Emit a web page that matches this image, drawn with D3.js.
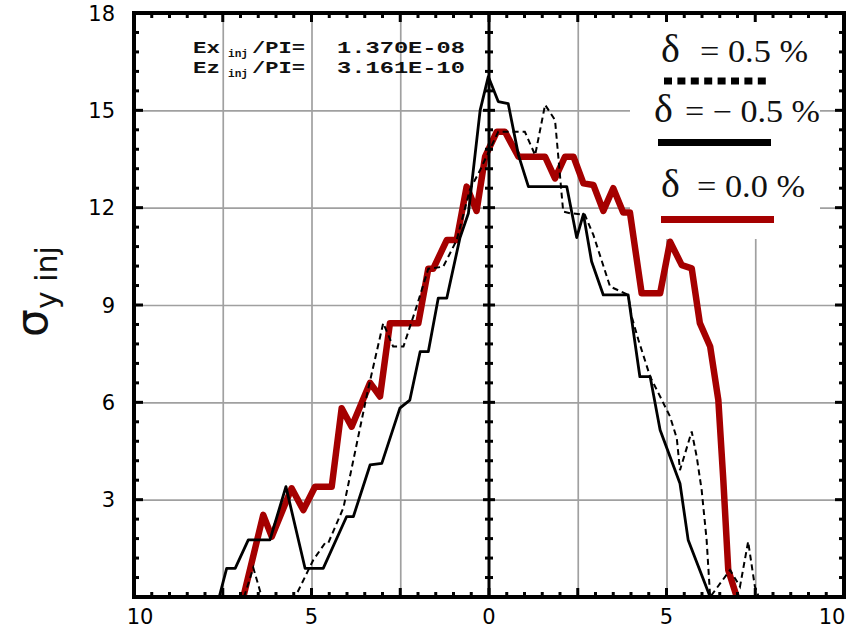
<!DOCTYPE html>
<meta charset="utf-8">
<style>
body { margin: 0; background: #fff; }
.tick-label { font-family: "DejaVu Sans", sans-serif; font-size: 21px; fill: #000; }
.grid line { stroke: #a0a0a0; stroke-width: 1.7px; }
.grid path { display: none; }
.anno { font-family: "Liberation Mono", monospace; font-weight: bold; fill: #111; }
.leg { font-family: "Liberation Serif", serif; fill: #111; }
</style>
<body>
<svg id="chart" width="849" height="637"></svg>
<script src="https://cdn.jsdelivr.net/npm/d3@7"></script>
<script>
// delta = -0.5 %  (thin solid black)
var xNeg = [-7.6, -7.39, -7.15, -6.78, -6.17, -5.72, -5.18, -4.67, -4.01, -3.82, -3.35, -3.02, -2.51, -2.23, -1.94, -1.71, -1.43, -1.19, -0.82, -0.58, -0.25, -0.02, 0.26, 0.54, 0.83, 1.11, 2.19, 2.47, 2.66, 2.89, 3.22, 3.92, 4.25, 4.54, 4.82, 5.38, 5.61, 6.23];
var yNeg = [0, 0.88, 0.88, 1.76, 1.76, 3.4, 0.88, 0.88, 2.48, 2.48, 4.07, 4.12, 5.82, 6.07, 7.56, 7.56, 9.21, 9.21, 11.06, 11.83, 15.0, 16.04, 15.27, 15.21, 13.62, 12.65, 12.65, 11.08, 11.8, 10.34, 9.31, 9.31, 6.79, 6.79, 5.15, 3.5, 1.76, 0];
// delta = +0.5 %  (dashed black)
var xPos = [-6.9, -6.64, -6.4, -5.46, -4.95, -4.62, -4.53, -4.1, -3.42, -2.98, -2.7, -2.41, -2.04, -1.71, -1.29, -0.91, -0.54, -0.25, 0.26, 1.01, 1.3, 1.58, 1.86, 2.09, 2.28, 2.7, 2.94, 3.41, 3.92, 4.02, 4.21, 4.54, 4.82, 5.1, 5.29, 5.38, 5.71, 5.85, 5.99, 6.13, 6.23, 6.79, 7.07, 7.3, 7.49, 7.6];
var yPos = [0, 0.9, 0, 0, 1.14, 1.66, 1.66, 2.75, 6.33, 8.44, 7.72, 7.72, 8.95, 10.12, 10.18, 11.0, 12.55, 13.16, 14.34, 14.34, 13.62, 15.17, 14.7, 11.88, 11.83, 11.78, 11.16, 9.57, 9.31, 8.64, 7.92, 6.79, 6.18, 5.56, 4.89, 3.91, 5.1, 4.33, 3.3, 1.76, 0, 0.83, 0.32, 1.71, 0.32, 0];
// delta = 0.0 %  (thick red)
var xZero = [-6.92, -6.36, -6.12, -5.56, -5.23, -4.9, -4.43, -4.15, -3.87, -3.35, -3.07, -2.79, -1.99, -1.71, -1.57, -1.19, -0.91, -0.63, -0.35, -0.11, 0.22, 0.45, 0.83, 1.58, 1.86, 2.14, 2.38, 2.66, 2.94, 3.22, 3.5, 3.78, 3.97, 4.3, 4.82, 5.1, 5.43, 5.71, 5.94, 6.23, 6.46, 6.6, 6.74, 6.98];
var yZero = [0, 2.53, 1.86, 3.35, 2.68, 3.4, 3.4, 5.82, 5.25, 6.6, 6.18, 8.44, 8.44, 10.12, 10.12, 11.0, 11.0, 12.65, 11.9, 13.57, 14.34, 14.34, 13.57, 13.57, 12.9, 13.57, 13.57, 12.75, 12.7, 11.9, 12.6, 11.85, 11.85, 9.36, 9.36, 10.95, 10.23, 10.13, 8.44, 7.72, 6.07, 3.61, 0.83, 0];

var xTicks = [-10, -5, 0, 5, 10];
var yTicks = [3, 6, 9, 12, 15, 18];
var xGrid = [-7.5, -5, -2.5, 2.5, 5, 7.5];
var yGrid = [3, 6, 9, 12, 15];
var legendText = ["= 0.5 %", "= \u2212 0.5 %", "= 0.0 %"];
var annoNames = ["Ex", "Ez"];
var annoValues = ["1.370E-08", "3.161E-10"];

var red = "#a50000";

var svg = d3.select("#chart"),
    margin = {top: 13, right: 5, bottom: 40, left: 134},
    width = +svg.attr("width") - margin.left - margin.right,
    height = +svg.attr("height") - margin.top - margin.bottom;

var x = d3.scaleLinear().domain([-10, 10]).range([0, width]),
    y = d3.scaleLinear().domain([0, 18]).range([height, 0]);

var g = svg.append("g")
    .attr("transform", "translate(" + margin.left + "," + margin.top + ")");

// grid
g.append("g")
    .attr("class", "grid")
    .attr("transform", "translate(0," + height + ")")
    .call(d3.axisBottom(x).tickValues(xGrid).tickSize(-height).tickFormat(""));
g.append("g")
    .attr("class", "grid")
    .call(d3.axisLeft(y).tickValues(yGrid).tickSize(-width).tickFormat(""));

// white box behind the legend
g.append("rect")
    .attr("x", 496).attr("y", 2)
    .attr("width", 190).attr("height", 224)
    .attr("fill", "#fff");

// curves
var line = d3.line().x(function(d) { return x(d[0]); }).y(function(d) { return y(d[1]); });

g.append("path")
    .datum(d3.zip(xZero, yZero))
    .attr("fill", "none").attr("stroke", red)
    .attr("stroke-width", 6.5).attr("stroke-linejoin", "round")
    .attr("d", line);
g.append("path")
    .datum(d3.zip(xPos, yPos))
    .attr("fill", "none").attr("stroke", "#000")
    .attr("stroke-width", 2).attr("stroke-dasharray", "6,4")
    .attr("d", line);
g.append("path")
    .datum(d3.zip(xNeg, yNeg))
    .attr("fill", "none").attr("stroke", "#000")
    .attr("stroke-width", 2.8).attr("stroke-linejoin", "round")
    .attr("d", line);

// frame and centre axis
g.append("rect")
    .attr("width", width).attr("height", height)
    .attr("fill", "none").attr("stroke", "#000").attr("stroke-width", 4);
g.append("line")
    .attr("x1", x(0)).attr("x2", x(0)).attr("y1", 0).attr("y2", height)
    .attr("stroke", "#000").attr("stroke-width", 3);

// minor / major ticks
function isMajor(v, step) { return Math.abs(v / step - Math.round(v / step)) < 1e-6; }
var xMinor = d3.range(-10, 10.001, 0.5);
var yMinor = d3.range(0, 18.001, 0.6);

var ticks = g.append("g").attr("stroke", "#000").attr("stroke-width", 3);
ticks.selectAll(".tb").data(xMinor).enter().append("line")
    .attr("x1", function(d) { return x(d); }).attr("x2", function(d) { return x(d); })
    .attr("y1", height).attr("y2", function(d) { return height - (isMajor(d, 2.5) ? 9 : 5); });
ticks.selectAll(".tt").data(xMinor).enter().append("line")
    .attr("x1", function(d) { return x(d); }).attr("x2", function(d) { return x(d); })
    .attr("y1", 0).attr("y2", function(d) { return isMajor(d, 2.5) ? 9 : 5; });
ticks.selectAll(".tl").data(yMinor).enter().append("line")
    .attr("y1", function(d) { return y(d); }).attr("y2", function(d) { return y(d); })
    .attr("x1", 0).attr("x2", function(d) { return isMajor(d, 3) ? 9 : 5; });
ticks.selectAll(".tr").data(yMinor).enter().append("line")
    .attr("y1", function(d) { return y(d); }).attr("y2", function(d) { return y(d); })
    .attr("x1", width).attr("x2", function(d) { return width - (isMajor(d, 3) ? 9 : 5); });
ticks.selectAll(".tc").data(yMinor).enter().append("line")
    .attr("y1", function(d) { return y(d); }).attr("y2", function(d) { return y(d); })
    .attr("x1", function(d) { return x(0) - (isMajor(d, 3) ? 6 : 4); })
    .attr("x2", function(d) { return x(0) + (isMajor(d, 3) ? 6 : 4); });

// tick labels
g.selectAll(".xl").data(xTicks).enter().append("text")
    .attr("class", "tick-label")
    .attr("x", function(d) { return Math.max(6, Math.min(width - 12, x(d))); })
    .attr("y", height + 20)
    .attr("dy", "0.35em")
    .attr("text-anchor", "middle")
    .text(function(d) { return Math.abs(d); });
g.selectAll(".yl").data(yTicks).enter().append("text")
    .attr("class", "tick-label")
    .attr("x", -19)
    .attr("y", function(d) { return y(d); })
    .attr("dy", "0.36em")
    .attr("text-anchor", "end")
    .text(function(d) { return d; });

// y axis title
var yt = svg.append("text")
    .attr("transform", "translate(47,337) rotate(-90)")
    .attr("font-family", "DejaVu Sans, sans-serif")
    .attr("fill", "#111");
yt.append("tspan").attr("font-size", 44).text("\u03c3");
yt.append("tspan").attr("font-size", 30).attr("dy", 10).text("y inj");

// annotation
annoNames.forEach(function(n, i) {
  var by = 53 + i * 20;
  svg.append("text").attr("class", "anno").attr("font-size", 17)
      .attr("x", 193).attr("y", by)
      .attr("textLength", 27).attr("lengthAdjust", "spacingAndGlyphs").text(n);
  svg.append("text").attr("class", "anno").attr("font-size", 11)
      .attr("x", 228).attr("y", by + 4)
      .attr("textLength", 20).attr("lengthAdjust", "spacingAndGlyphs").text("inj");
  svg.append("text").attr("class", "anno").attr("font-size", 17)
      .attr("x", 252).attr("y", by)
      .attr("textLength", 53).attr("lengthAdjust", "spacingAndGlyphs").text("/PI=");
  svg.append("text").attr("class", "anno").attr("font-size", 17)
      .attr("x", 337).attr("y", by)
      .attr("textLength", 128).attr("lengthAdjust", "spacingAndGlyphs").text(annoValues[i]);
});

// legend
var legRows = [
  {dx: 661, tx: 700, tl: 108, by: 62},
  {dx: 654, tx: 685, tl: 135, by: 122},
  {dx: 661, tx: 697, tl: 108, by: 197}
];
legRows.forEach(function(r, i) {
  svg.append("text").attr("class", "leg").attr("font-size", 40)
      .attr("x", r.dx).attr("y", r.by).text("\u03b4");
  svg.append("text").attr("class", "leg").attr("font-size", 31)
      .attr("x", r.tx).attr("y", r.by)
      .attr("textLength", r.tl).attr("lengthAdjust", "spacingAndGlyphs")
      .text(legendText[i]);
});
svg.append("line").attr("x1", 664).attr("x2", 771).attr("y1", 81).attr("y2", 81)
    .attr("stroke", "#000").attr("stroke-width", 7).attr("stroke-dasharray", "8,5.4");
svg.append("line").attr("x1", 658).attr("x2", 771).attr("y1", 142.5).attr("y2", 142.5)
    .attr("stroke", "#000").attr("stroke-width", 7);
svg.append("line").attr("x1", 661).attr("x2", 774).attr("y1", 219.5).attr("y2", 219.5)
    .attr("stroke", red).attr("stroke-width", 7);
</script>
</body>
